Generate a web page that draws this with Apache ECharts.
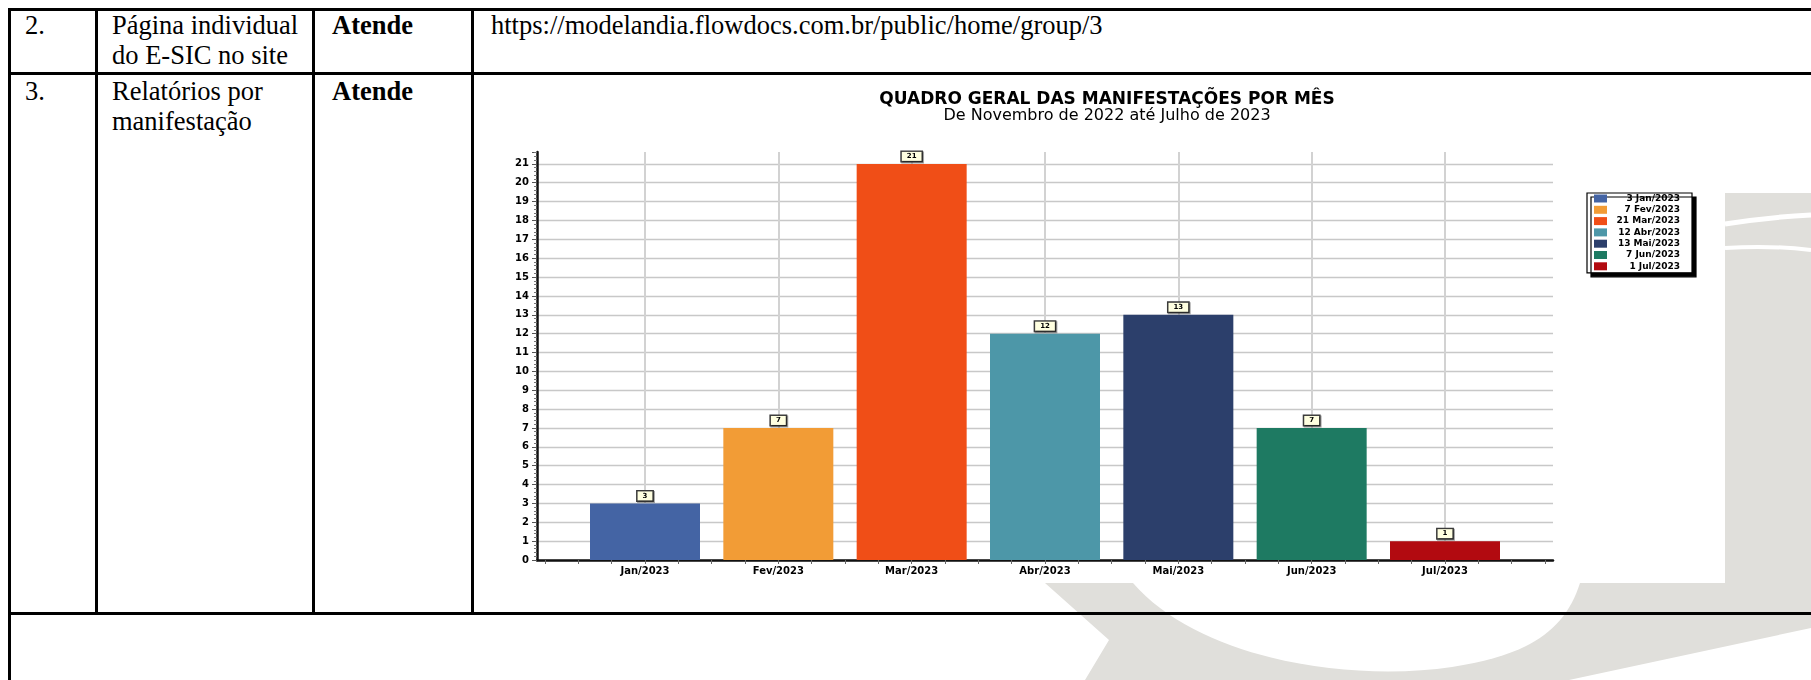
<!DOCTYPE html>
<html><head><meta charset="utf-8">
<script src="https://cdn.jsdelivr.net/npm/echarts@6/dist/echarts.min.js"></script>
<style>
body{margin:0;width:1811px;height:680px;overflow:hidden;background:#fff;position:relative;font-family:"Liberation Serif","Times New Roman",serif;}
.l{position:absolute;background:#000;}
.t{position:absolute;font-size:26.5px;line-height:30px;color:#000;white-space:nowrap;}
.b{font-weight:bold;}
#wm{position:absolute;left:0;top:0;}
#chart{position:absolute;left:474px;top:75px;width:1251px;height:508px;background:#fff;}
</style></head><body>
<svg id="wm" width="1811" height="680" viewBox="0 0 1811 680">
  <path d="M1045,583 L1109,640 L1085,680 L1569,680 L1811,628 L1811,193 L1725,193 L1725,583 Z" fill="#e0dfdb"/>
  <path d="M1133,583 C1200,660 1350,682 1452,667 C1530,655 1565,630 1580,583 Z" fill="#ffffff"/>
  <path d="M1725,224 Q1770,217 1811,215" stroke="#ffffff" stroke-width="5" fill="none"/>
  <path d="M1725,248 Q1770,245 1811,250" stroke="#ffffff" stroke-width="4" fill="none"/>
</svg>
<div class="l" style="left:8px;top:8px;width:1803px;height:3px"></div>
<div class="l" style="left:8px;top:72px;width:1803px;height:3px"></div>
<div class="l" style="left:8px;top:612px;width:1803px;height:3px"></div>
<div class="l" style="left:8px;top:8px;width:3px;height:672px"></div>
<div class="l" style="left:95px;top:8px;width:3px;height:607px"></div>
<div class="l" style="left:312px;top:8px;width:3px;height:607px"></div>
<div class="l" style="left:471px;top:8px;width:3px;height:607px"></div>
<div class="t" style="left:25px;top:10px">2.</div>
<div class="t" style="left:112px;top:10px">Página individual<br>do E-SIC no site</div>
<div class="t b" style="left:332px;top:10px">Atende</div>
<div class="t" style="left:491px;top:10px">https://modelandia.flowdocs.com.br/public/home/group/3</div>
<div class="t" style="left:25px;top:76px">3.</div>
<div class="t" style="left:112px;top:76px">Relatórios por<br>manifestação</div>
<div class="t b" style="left:332px;top:76px">Atende</div>
<div id="chart"></div>
<script>
const chartTitle = 'QUADRO GERAL DAS MANIFESTAÇÕES POR MÊS';
const chartSubtitle = 'De Novembro de 2022 até Julho de 2023';
const categories = ['Jan/2023', 'Fev/2023', 'Mar/2023', 'Abr/2023', 'Mai/2023', 'Jun/2023', 'Jul/2023'];
const values = [3, 7, 21, 12, 13, 7, 1];
const barColors = ['#4464a4', '#f29c36', '#f04e17', '#4d97a8', '#2c3f6b', '#1e7a62', '#b20a10'];

const FONT = 'DejaVu Sans';
const catIdx = categories.map((c, i) => i);
const quarterTicks = [];
for (let q = -3; q <= categories.length * 4 - 1; q++) quarterTicks.push(q / 4);

const barSeries = categories.map((c, i) => ({
  type: 'bar',
  name: values[i] + ' ' + c,
  stack: 'all',
  barWidth: 110,
  z: 3,
  data: [[i, values[i]]],
  itemStyle: { color: barColors[i] },
  label: {
    show: true, position: 'top', distance: 3,
    formatter: p => String(p.value[1]),
    fontFamily: FONT, fontSize: 7, fontWeight: 'bold', color: '#000',
    backgroundColor: '#ffffe0', borderColor: '#3a3a3a', borderWidth: 1.5,
    padding: [1, 5, 1, 5],
    shadowColor: 'rgba(0,0,0,0.35)', shadowOffsetX: 1, shadowOffsetY: 1, shadowBlur: 0
  }
}));

const guideSeries = {
  type: 'line', name: '_guide', data: [], z: 1, silent: true,
  markLine: {
    z: 1, silent: true, symbol: ['none', 'none'],
    label: { show: false },
    lineStyle: { color: '#d2d2d2', width: 2, type: 'solid' },
    data: catIdx.map(i => ({ xAxis: i }))
  }
};

const chart = echarts.init(document.getElementById('chart'), null, { renderer: 'canvas' });
chart.setOption({
  animation: false,
  backgroundColor: '#ffffff',
  title: [
    { text: chartTitle, left: 633, top: 16, padding: 0, textAlign: 'center',
      textStyle: { fontFamily: FONT, fontSize: 17, fontWeight: 'bold', color: '#000' } },
    { text: chartSubtitle, left: 633, top: 33, padding: 0, textAlign: 'center',
      textStyle: { fontFamily: FONT, fontSize: 16, fontWeight: 'normal', color: '#000' } }
  ],
  legend: {
    data: barSeries.map(s => s.name),
    orient: 'vertical', left: 1113, top: 118,
    padding: [1, 12, 2, 7], itemGap: 2.3,
    icon: 'rect', itemWidth: 13, itemHeight: 8,
    backgroundColor: '#ffffff', borderColor: '#000', borderWidth: 1.2,
    shadowColor: '#000', shadowOffsetX: 4, shadowOffsetY: 4, shadowBlur: 0,
    selectedMode: false,
    formatter: n => '{r|' + n + '}',
    textStyle: {
      fontFamily: FONT, fontSize: 9, fontWeight: 'bold', color: '#000',
      rich: { r: { width: 68, align: 'right', fontFamily: FONT, fontSize: 9, fontWeight: 'bold', color: '#000' } }
    }
  },
  grid: { left: 63, right: 172, top: 77, bottom: 23, containLabel: false },
  xAxis: {
    type: 'value', min: -0.81, max: 6.81,
    axisLine: { show: true, onZero: false, lineStyle: { color: '#111', width: 2.5 } },
    axisTick: { show: true, length: 4, customValues: quarterTicks, lineStyle: { color: '#666', width: 1 } },
    axisLabel: {
      customValues: catIdx, margin: 6,
      formatter: v => (Number.isInteger(v) && categories[v]) ? categories[v] : '',
      fontFamily: FONT, fontSize: 10, fontWeight: 'bold', color: '#000'
    },
    splitLine: { show: false }
  },
  yAxis: {
    type: 'value', min: 0, max: 21.63, interval: 1,
    axisLine: { show: true, onZero: false, lineStyle: { color: '#111', width: 2.5 } },
    axisTick: { show: true, length: 5, lineStyle: { color: '#555' } },
    minorTick: { show: true, splitNumber: 5, length: 3, lineStyle: { color: '#777' } },
    axisLabel: { margin: 8, showMaxLabel: false, fontFamily: FONT, fontSize: 10, fontWeight: 'bold', color: '#000' },
    splitLine: { show: true, showMaxLine: false, lineStyle: { color: '#c8c8c8', width: 1.3 } }
  },
  series: [guideSeries].concat(barSeries)
});
</script>
</body></html>
